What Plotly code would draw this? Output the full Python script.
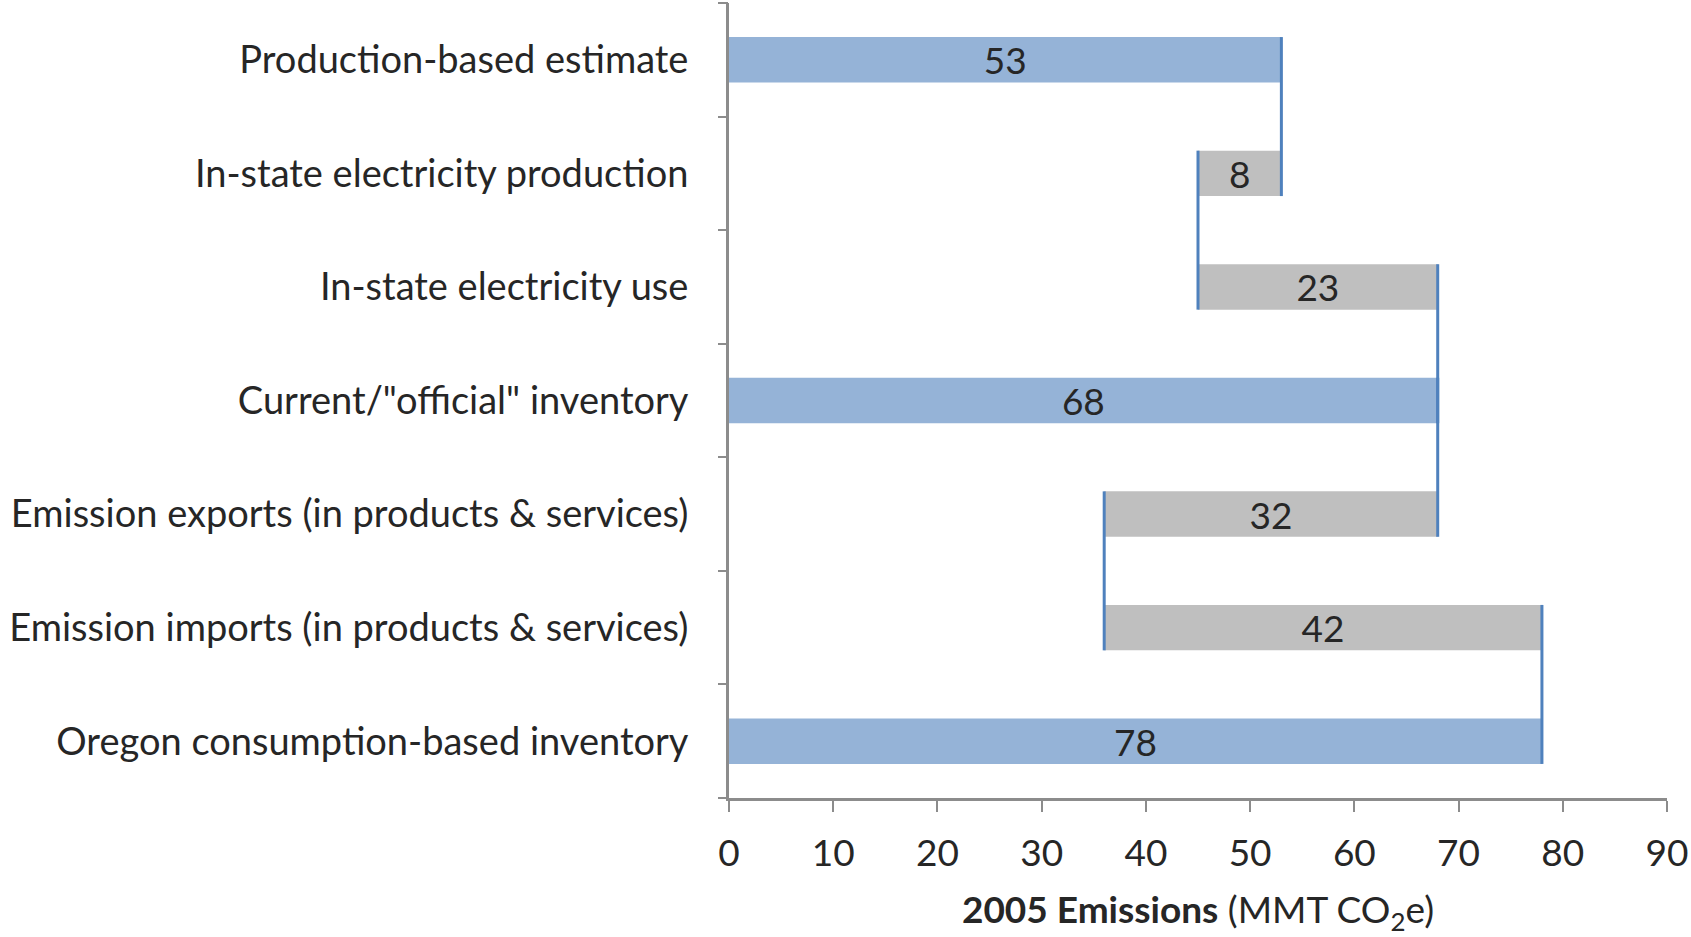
import plotly.graph_objects as go

# Oregon 2005 emissions bridge: production-based -> consumption-based inventory
categories = [
    "Production-based estimate",
    "In-state electricity production",
    "In-state electricity use",
    "Current/\"official\" inventory",
    "Emission exports (in products & services)",
    "Emission imports (in products & services)",
    "Oregon consumption-based inventory",
]
bar_start = [0, 45, 45, 0, 36, 36, 0]
bar_value = [53, 8, 23, 68, 32, 42, 78]
is_total = [True, False, False, True, False, False, True]

x_ticks = [0, 10, 20, 30, 40, 50, 60, 70, 80, 90]

BLUE_FILL = "#95B3D7"
GREY_FILL = "#BFBFBF"
CONNECTOR = "#4F81BD"
AXIS_GREY = "#8C8C8C"
TEXT = "#262626"
FONT = "Lato"
BAR_W = 0.4

y_pos = list(range(len(categories)))

fig = go.Figure()

fig.add_trace(go.Bar(
    orientation="h",
    y=y_pos,
    x=bar_value,
    base=bar_start,
    width=BAR_W,
    marker=dict(color=[BLUE_FILL if t else GREY_FILL for t in is_total], line=dict(width=0)),
    text=[str(v) for v in bar_value],
    textposition="inside",
    insidetextanchor="middle",
    textangle=0,
    constraintext="none",
    textfont=dict(family=FONT, size=37, color=TEXT),
    hoverinfo="skip",
    showlegend=False,
))

# Connector lines at the edge shared by consecutive bars
for i in range(len(categories) - 1):
    a = {bar_start[i], bar_start[i] + bar_value[i]}
    b = {bar_start[i + 1], bar_start[i + 1] + bar_value[i + 1]}
    shared = sorted(a & b)
    for edge in shared:
        if edge == 0:
            continue
        fig.add_trace(go.Scatter(
            x=[edge, edge],
            y=[i - BAR_W / 2, i + 1 + BAR_W / 2],
            mode="lines",
            line=dict(color=CONNECTOR, width=3),
            hoverinfo="skip",
            showlegend=False,
        ))

# Invisible trace carrying the boundary-tick axis
fig.add_trace(go.Scatter(x=[None], y=[None], yaxis="y2", showlegend=False, hoverinfo="skip"))

n = len(categories)
fig.update_layout(
    width=1691,
    height=937,
    margin=dict(l=729, r=21, t=3, b=139),
    paper_bgcolor="white",
    plot_bgcolor="white",
    font=dict(family=FONT, color=TEXT),
    bargap=0.6,
    xaxis=dict(
        range=[0, 90],
        tickvals=x_ticks,
        ticks="outside",
        ticklen=11,
        tickwidth=2,
        tickcolor=AXIS_GREY,
        showline=True,
        linecolor=AXIS_GREY,
        linewidth=3,
        showgrid=False,
        zeroline=False,
        automargin=True,
        tickfont=dict(family=FONT, size=37, color=TEXT),
        ticklabelstandoff=10,
        ticklabeloverflow="allow",
        title=dict(
            text="<b>2005 Emissions</b> (MMT CO<sub>2</sub>e)",
            font=dict(family=FONT, size=37, color=TEXT),
            standoff=28,
        ),
    ),
    yaxis=dict(
        range=[n - 0.5, -0.5],
        tickvals=y_pos,
        ticktext=categories,
        ticks="",
        showline=True,
        linecolor=AXIS_GREY,
        linewidth=3,
        showgrid=False,
        zeroline=False,
        tickfont=dict(family=FONT, size=38, color=TEXT),
        ticklabelstandoff=30,
    ),
    yaxis2=dict(
        overlaying="y",
        side="left",
        range=[n - 0.5, -0.5],
        tickvals=[k - 0.5 for k in range(n + 1)],
        ticks="outside",
        ticklen=10,
        tickwidth=2,
        tickcolor=AXIS_GREY,
        showticklabels=False,
        showline=False,
        showgrid=False,
        zeroline=False,
    ),
)

fig.write_html("out.html")
